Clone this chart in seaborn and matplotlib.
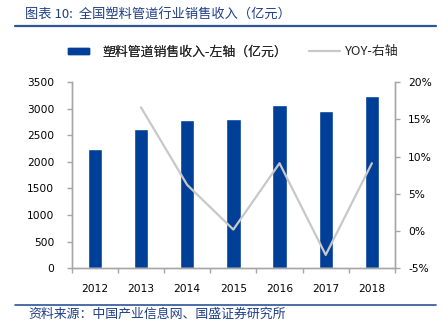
import matplotlib
matplotlib.use("Agg")
import matplotlib.pyplot as plt
from matplotlib.lines import Line2D
from matplotlib.patches import Patch
from matplotlib.ticker import MultipleLocator, FuncFormatter, FixedLocator
import numpy as np
import pandas as pd
import seaborn as sns

# Data
years = ["2012", "2013", "2014", "2015", "2016", "2017", "2018"]
revenue = [2250, 2617, 2787, 2800, 3063, 2956, 3238]          # 亿元
yoy_years = ["2013", "2014", "2015", "2016", "2017", "2018"]
yoy = [16.6, 6.2, 0.2, 9.1, -3.2, 9.1]                          # %

title_text = "图表 10:  全国塑料管道行业销售收入（亿元）"
source_text = "资料来源：中国产业信息网、国盛证券研究所"
bar_label = "塑料管道销售收入-左轴（亿元）"
line_label = "YOY-右轴"

sns.set_theme(style="white")
plt.rcParams["font.family"] = ["Noto Sans CJK SC", "DejaVu Sans"]

BAR = "#003F98"
LINE = "#C8C8C8"
AXC = "#A6A6A6"
DARKBLUE = "#1F3F86"

fig = plt.figure(figsize=(4.43, 3.23), dpi=100)
ax = fig.add_axes([0.1619, 0.1693, 0.7297, 0.5768])

df = pd.DataFrame({"year": years, "revenue": revenue})
sns.barplot(data=df, x="year", y="revenue", order=years, color=BAR,
            width=0.31, saturation=1, ax=ax, zorder=2)
ax.set_xlim(-0.5, len(years) - 0.5)
ax.set_ylim(0, 3500)
ax.yaxis.set_major_locator(MultipleLocator(500))
ax.set_xlabel("")
ax.set_ylabel("")

ax2 = ax.twinx()
pos = {y: i for i, y in enumerate(years)}
ldf = pd.DataFrame({"x": [pos[y] for y in yoy_years], "yoy": yoy})
sns.lineplot(data=ldf, x="x", y="yoy", color=LINE, linewidth=1.6, ax=ax2,
             zorder=3)
ax2.set_ylim(-5, 20)
ax2.yaxis.set_major_locator(MultipleLocator(5))
ax2.yaxis.set_major_formatter(FuncFormatter(lambda v, p: f"{v:.0f}%"))
ax2.set_xlabel("")
ax2.set_ylabel("")
ax2.set_xlim(-0.5, len(years) - 0.5)

tick_font = dict(family="DejaVu Sans", size=7.7)
for a in (ax, ax2):
    for s in a.spines.values():
        s.set_color(AXC)
        s.set_linewidth(1.0)
    a.spines["top"].set_visible(False)
    a.grid(False)

# x axis: labels at centres, tick marks at category boundaries
ax.set_xticks(range(len(years)))
ax.set_xticklabels(years, **tick_font, color="#000000")
ax.xaxis.set_minor_locator(FixedLocator(np.arange(-0.5, len(years), 1.0)))
ax.tick_params(axis="x", which="major", length=0, pad=11)
ax.tick_params(axis="x", which="minor", length=3.5, color=AXC, width=1,
               direction="out", bottom=True)
ax.tick_params(axis="y", which="major", length=3.5, color=AXC, width=1,
               direction="out", left=True, pad=9)
for lab in ax.get_yticklabels():
    lab.set_fontfamily("DejaVu Sans")
    lab.set_fontsize(7.7)
    lab.set_color("#000000")
ax2.tick_params(axis="y", which="major", length=3.5, color=AXC, width=1,
                direction="out", right=True, pad=6)
for lab in ax2.get_yticklabels():
    lab.set_fontfamily("DejaVu Sans")
    lab.set_fontsize(7.7)
    lab.set_color("#000000")

# Legend: two entries with different handle lengths
leg_y = 1 - 52 / 323
leg1 = fig.legend(handles=[Patch(facecolor=BAR, edgecolor=BAR, label=bar_label)],
                  loc="center left", bbox_to_anchor=(68 / 443, leg_y),
                  frameon=False, fontsize=9.3, handlelength=1.63,
                  handleheight=0.4, handletextpad=1.05, borderpad=0,
                  borderaxespad=0)
fig.add_artist(leg1)
fig.legend(handles=[Line2D([0], [0], color=LINE, lw=1.6, label=line_label)],
           loc="center left", bbox_to_anchor=(309 / 443, leg_y),
           frameon=False, fontsize=9.3, handlelength=2.4,
           handletextpad=0.4, borderpad=0, borderaxespad=0)

# Header and footer
fig.text(0.056, 0.954, title_text, fontsize=9.5, color=DARKBLUE,
         va="center", ha="left")
fig.add_artist(Line2D([0.034, 0.984], [0.919, 0.919], color="#2E5597",
                      lw=1.6, transform=fig.transFigure))
fig.add_artist(Line2D([0.034, 0.984], [0.056, 0.056], color="#2E5597",
                      lw=1.2, transform=fig.transFigure))
fig.text(0.063, 0.028, source_text, fontsize=9.3, color=DARKBLUE,
         va="center", ha="left")

fig.savefig("out.png", dpi=100)
